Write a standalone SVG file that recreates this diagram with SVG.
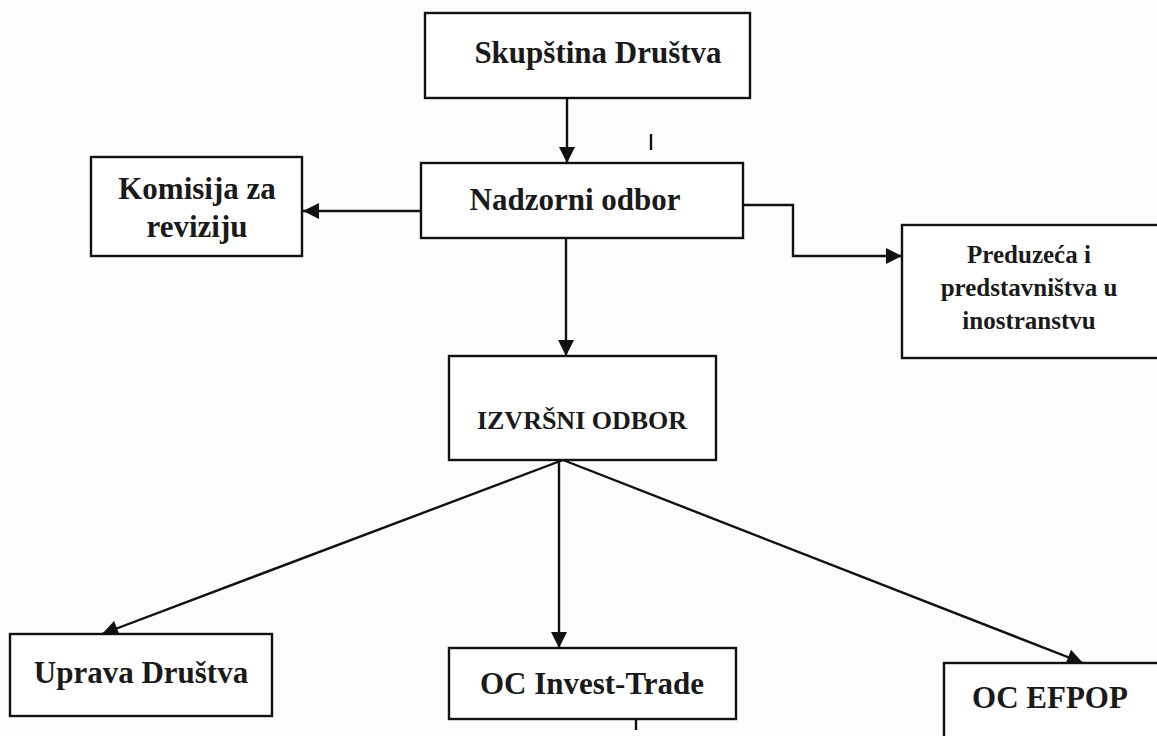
<svg xmlns="http://www.w3.org/2000/svg" width="1157" height="736" viewBox="0 0 1157 736">
<defs>
<style>
.box{fill:#fff;stroke:#111;stroke-width:2.4}
.t{font-family:"Liberation Serif","Times New Roman",serif;font-weight:bold;fill:#1a1a1a;text-anchor:middle}
.c{fill:none;stroke:#111;stroke-width:2.4}
</style>
<marker id="ahb" viewBox="0 0 10 10" refX="10" refY="5" markerWidth="17" markerHeight="16" markerUnits="userSpaceOnUse" orient="auto">
<path d="M0,0 L10,5 L0,10 z" fill="#111"/>
</marker>
</defs>
<rect width="1157" height="736" fill="#fdfdfd"/>
<g id="connectors">
<line class="c" x1="567" y1="98" x2="567" y2="163" marker-end="url(#ahb)"/>
<line class="c" x1="421" y1="211" x2="303" y2="211" marker-end="url(#ahb)"/>
<polyline class="c" points="743,205 793,205 793,256 902,256" marker-end="url(#ahb)"/>
<line class="c" x1="566" y1="238" x2="566" y2="356" marker-end="url(#ahb)"/>
<line class="c" x1="563" y1="460" x2="102" y2="634" marker-end="url(#ahb)"/>
<line class="c" x1="559" y1="460" x2="559" y2="648" marker-end="url(#ahb)"/>
<line class="c" x1="563" y1="460" x2="1083" y2="663" marker-end="url(#ahb)"/>
<line class="c" x1="651" y1="134" x2="651" y2="150" stroke-width="1.5"/>
<line class="c" x1="636" y1="710" x2="636" y2="730" stroke-width="1.5"/>
</g>
<g id="skupstina">
<rect class="box" x="425" y="13" width="325" height="85"/>
<text class="t" x="598" y="63" font-size="31">Skupština Društva</text>
</g>
<g id="nadzorni">
<rect class="box" x="421" y="163" width="322" height="75"/>
<text class="t" x="575" y="210" font-size="31">Nadzorni odbor</text>
</g>
<g id="komisija">
<rect class="box" x="91" y="157" width="211" height="99"/>
<text class="t" x="197" y="199" font-size="31">Komisija za</text>
<text class="t" x="197" y="237" font-size="31">reviziju</text>
</g>
<g id="preduzeca">
<rect class="box" x="902" y="225" width="265" height="133"/>
<text class="t" x="1029" y="263" font-size="25">Preduzeća i</text>
<text class="t" x="1029" y="296" font-size="25">predstavništva u</text>
<text class="t" x="1029" y="329" font-size="25">inostranstvu</text>
</g>
<g id="izvrsni">
<rect class="box" x="449" y="356" width="267" height="104"/>
<text class="t" x="582" y="429" font-size="26">IZVRŠNI ODBOR</text>
</g>
<g id="uprava">
<rect class="box" x="10" y="634" width="262" height="82"/>
<text class="t" x="141" y="683" font-size="31">Uprava Društva</text>
</g>
<g id="invest">
<rect class="box" x="449" y="648" width="287" height="71"/>
<text class="t" x="592" y="694" font-size="31">OC Invest-Trade</text>
</g>
<g id="efpop">
<rect class="box" x="944" y="663" width="225" height="80"/>
<text class="t" x="1050" y="708" font-size="31">OC EFPOP</text>
</g>
</svg>
